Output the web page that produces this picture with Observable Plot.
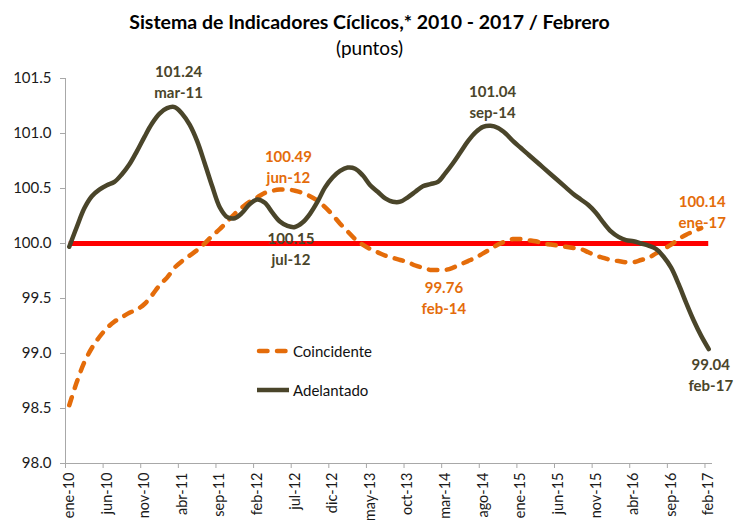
<!DOCTYPE html>
<html>
<head>
<meta charset="utf-8">
<script src="https://cdn.jsdelivr.net/npm/d3@7"></script>
<script src="https://cdn.jsdelivr.net/npm/@observablehq/plot@0.6"></script>
<style>
  body { margin: 0; background: #fff; font-family: Lato, "Open Sans", sans-serif; }
  #wrap { position: relative; width: 739px; height: 522px; overflow: hidden; }
  #title { position: absolute; left: 0; top: 9px; width: 739px; text-align: center;
           font-weight: bold; font-size: 19.5px; line-height: 26px; color: #000; }
  #sub { position: absolute; left: 0; top: 36px; width: 739px; text-align: center;
         font-size: 19px; line-height: 24px; color: #000; }
  #chart { position: absolute; left: 0; top: 60px; }
  .leg { position: absolute; display: flex; align-items: center; height: 20px;
         font-size: 15px; color: #111; }
  .leg svg { margin-right: 3px; }
</style>
</head>
<body>
<div id="wrap">
  <div id="title">Sistema de Indicadores Cíclicos,* 2010 - 2017 / Febrero</div>
  <div id="sub">(puntos)</div>
  <div id="chart"></div>
  <div class="leg" id="leg1" style="left:256px; top:341px;"></div>
  <div class="leg" id="leg2" style="left:256px; top:380px;"></div>
</div>
<script>
// Categorías (meses)
const meses = [
  "ene-10","feb-10","mar-10","abr-10","may-10","jun-10","jul-10","ago-10","sep-10","oct-10","nov-10","dic-10",
  "ene-11","feb-11","mar-11","abr-11","may-11","jun-11","jul-11","ago-11","sep-11","oct-11","nov-11","dic-11",
  "ene-12","feb-12","mar-12","abr-12","may-12","jun-12","jul-12","ago-12","sep-12","oct-12","nov-12","dic-12",
  "ene-13","feb-13","mar-13","abr-13","may-13","jun-13","jul-13","ago-13","sep-13","oct-13","nov-13","dic-13",
  "ene-14","feb-14","mar-14","abr-14","may-14","jun-14","jul-14","ago-14","sep-14","oct-14","nov-14","dic-14",
  "ene-15","feb-15","mar-15","abr-15","may-15","jun-15","jul-15","ago-15","sep-15","oct-15","nov-15","dic-15",
  "ene-16","feb-16","mar-16","abr-16","may-16","jun-16","jul-16","ago-16","sep-16","oct-16","nov-16","dic-16",
  "ene-17","feb-17"
];

// Indicador Coincidente (ene-10 .. ene-17)
const coincidente = [
  98.53, 98.74, 98.92, 99.05, 99.15, 99.23, 99.29, 99.33, 99.37, 99.40, 99.45, 99.53,
  99.62, 99.69, 99.78, 99.84, 99.89, 99.94, 100.00, 100.07, 100.13, 100.20, 100.27, 100.33,
  100.38, 100.42, 100.46, 100.48, 100.49, 100.49, 100.48, 100.46, 100.43, 100.39, 100.33, 100.26,
  100.18, 100.11, 100.04, 99.99, 99.95, 99.92, 99.89, 99.87, 99.85, 99.83, 99.80, 99.78,
  99.76, 99.76, 99.76, 99.78, 99.81, 99.84, 99.87, 99.91, 99.95, 99.99, 100.02, 100.04,
  100.04, 100.03, 100.02, 100.00, 99.99, 99.98, 99.97, 99.96, 99.95, 99.92, 99.89, 99.87,
  99.85, 99.84, 99.83, 99.83, 99.85, 99.87, 99.91, 99.95, 99.99, 100.04, 100.08, 100.11,
  100.14
];

// Indicador Adelantado (ene-10 .. feb-17)
const adelantado = [
  99.97, 100.15, 100.32, 100.43, 100.49, 100.53, 100.56, 100.63, 100.72, 100.84, 100.97, 101.09,
  101.18, 101.23, 101.24, 101.18, 101.08, 100.93, 100.73, 100.52, 100.33, 100.24, 100.23, 100.28,
  100.36, 100.40, 100.37, 100.28, 100.20, 100.16, 100.15, 100.19, 100.27, 100.38, 100.51, 100.60,
  100.66, 100.69, 100.68, 100.62, 100.53, 100.47, 100.41, 100.38, 100.38, 100.42, 100.47, 100.52,
  100.54, 100.56, 100.64, 100.73, 100.83, 100.93, 101.01, 101.06, 101.07, 101.05, 101.00, 100.93,
  100.87, 100.81, 100.75, 100.69, 100.63, 100.57, 100.51, 100.45, 100.40, 100.35, 100.28, 100.19,
  100.11, 100.06, 100.03, 100.02, 100.00, 99.98, 99.95, 99.88, 99.78, 99.63, 99.46, 99.30,
  99.16, 99.04
];

// Línea de referencia (tendencia de largo plazo)
const referencia = 100;

// Etiquetas del eje X
const xTickLabels = ["ene-10","jun-10","nov-10","abr-11","sep-11","feb-12","jul-12","dic-12","may-13",
  "oct-13","mar-14","ago-14","ene-15","jun-15","nov-15","abr-16","sep-16","feb-17"];

// Marcas del eje Y
const yTicks = [98.0, 98.5, 99.0, 99.5, 100.0, 100.5, 101.0, 101.5];

// Puntos anotados
const anotSerie = ["Adelantado","Coincidente","Adelantado","Coincidente","Adelantado","Coincidente","Adelantado"];
const anotMes   = ["mar-11","jun-12","jul-12","feb-14","sep-14","ene-17","feb-17"];
const anotValor = [101.24, 100.49, 100.15, 99.76, 101.04, 100.14, 99.04];

// ---- construcción ----
const colores = { Coincidente: "#e46c0a", Adelantado: "#4a452a" };
const offsets = {
  "mar-11": [4, -26], "jun-12": [1, -24], "jul-12": [-4, 21], "feb-14": [6, 27],
  "sep-14": [2, -28], "ene-17": [1, -17], "feb-17": [2, 25]
};

const rowsC = coincidente.map((v, i) => ({ i, mes: meses[i], v }));
const rowsA = adelantado.map((v, i) => ({ i, mes: meses[i], v }));
const anot = anotMes.map((m, k) => ({
  i: meses.indexOf(m), v: anotValor[k], serie: anotSerie[k], mes: m,
  txt: anotValor[k].toFixed(2) + "\n" + m
}));
const tickIdx = xTickLabels.map(l => meses.indexOf(l));

const axisColor = "#a8a8a8";
const n = meses.length;

const marks = [
  Plot.ruleY([referencia], { x1: 0, x2: n - 1, stroke: "#ff0000", strokeWidth: 5 }),
  Plot.ruleX([-0.5], { stroke: axisColor, strokeWidth: 1 }),
  Plot.ruleY([yTicks[0]], { stroke: axisColor, strokeWidth: 1 }),
  Plot.axisY({ ticks: yTicks, tickFormat: d3.format(".1f"), tickSize: 5, tickPadding: 9,
               stroke: axisColor, fill: "#1a1a1a", label: null, fontSize: 15 }),
  Plot.axisX({ ticks: tickIdx, tickFormat: i => meses[i], tickRotate: -90, tickSize: 0,
               tickPadding: 9, fill: "#1a1a1a", label: null }),
  Plot.axisX({ ticks: tickIdx.map(i => i - 0.5), tickFormat: () => "", tickSize: 5,
               stroke: axisColor, label: null }),
  Plot.line(rowsC, { x: "i", y: "v", stroke: colores.Coincidente, strokeWidth: 4.5,
                     strokeDasharray: "8.5,9.5", strokeLinecap: "round", curve: "catmull-rom" }),
  Plot.line(rowsA, { x: "i", y: "v", stroke: colores.Adelantado, strokeWidth: 4.5,
                     strokeLinecap: "round", curve: "catmull-rom" })
];
for (const a of anot) {
  const [dx, dy] = offsets[a.mes];
  marks.push(Plot.text([a], { x: "i", y: "v", text: "txt", dx, dy, lineAnchor: "middle",
    lineHeight: 1.38, fill: colores[a.serie], fontWeight: "bold", fontSize: 15 }));
}

const chart = Plot.plot({
  width: 739, height: 460,
  marginTop: 18, marginBottom: 57, marginLeft: 65, marginRight: 27,
  style: { fontFamily: "Lato, 'Open Sans', sans-serif", fontSize: "14.5px", background: "#fff", color: "#1a1a1a" },
  x: { type: "linear", domain: [-0.5, n - 0.5], axis: null },
  y: { domain: [yTicks[0], yTicks[yTicks.length - 1]], axis: null },
  marks
});
document.getElementById("chart").appendChild(chart);

// Leyenda
function legendItem(id, name, dashed) {
  const el = document.getElementById(id);
  const dash = dashed ? 'stroke-dasharray="8.5,9.5" stroke-linecap="round"' : '';
  el.innerHTML = `<svg width="34" height="10"><line x1="${dashed ? 3 : 1}" x2="${dashed ? 31 : 33}" y1="5" y2="5" stroke="${colores[name]}" stroke-width="4.5" ${dash}/></svg><span>${name}</span>`;
}
legendItem("leg1", "Coincidente", true);
legendItem("leg2", "Adelantado", false);
</script>
</body>
</html>
